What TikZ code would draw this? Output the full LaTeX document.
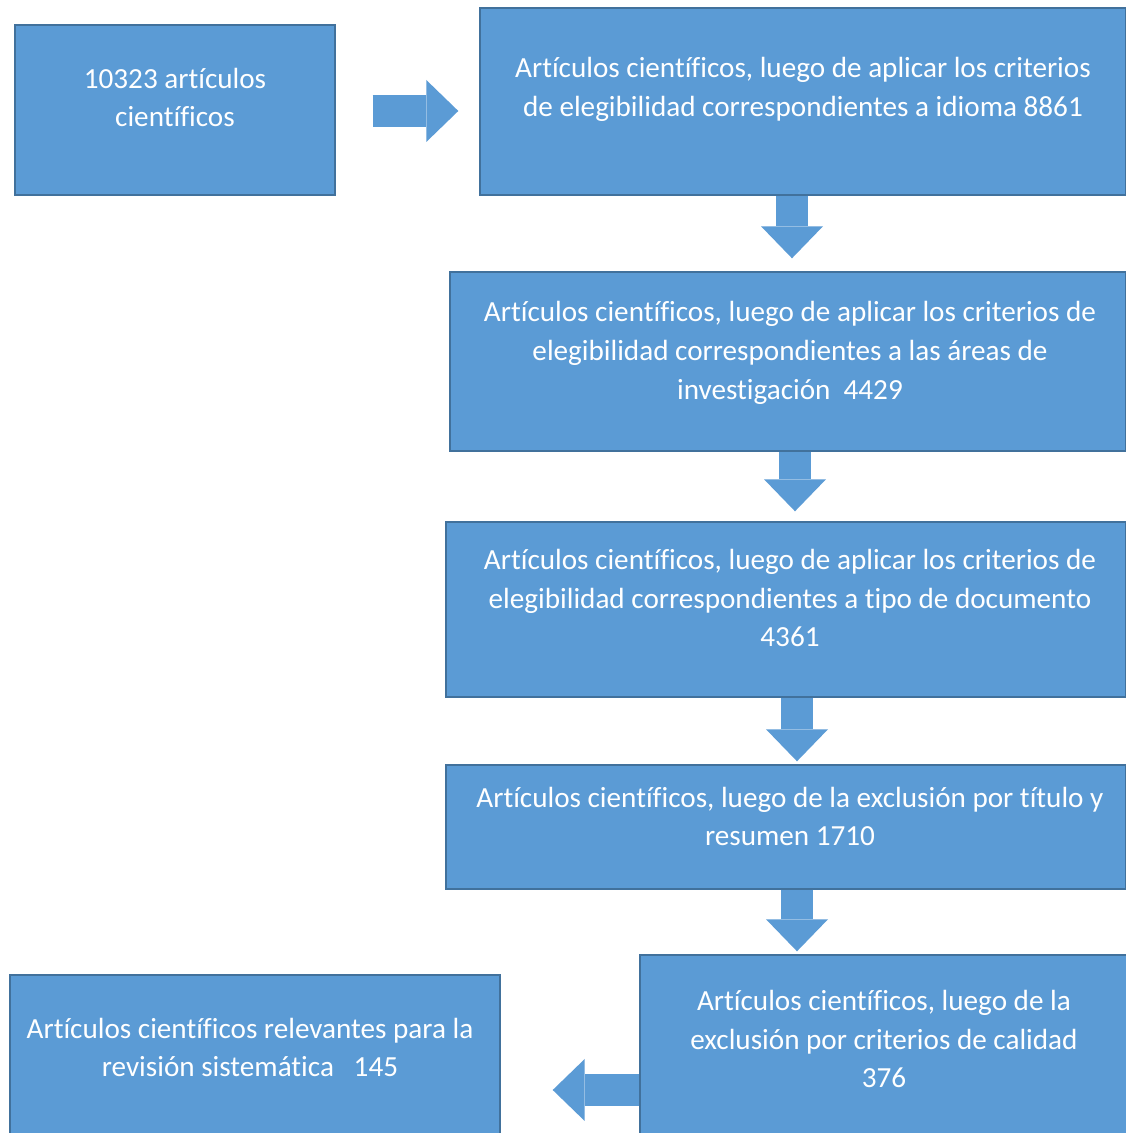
\documentclass[tikz,border=0pt]{standalone}
\usepackage{fontspec}
\setmainfont{Carlito}[Ligatures={NoCommon,NoContextual}]
\usepackage{xcolor}
\usetikzlibrary{arrows.meta}

\definecolor{boxblue}{HTML}{5B9BD5}
\definecolor{boxline}{HTML}{41719C}

\begin{document}
\begin{tikzpicture}[
		stepbox/.style = {draw = boxline, fill = boxblue, line width = 0.8pt, inner sep = 0pt},
		steptext/.style = {align = center, text = white, font = \fontsize{16.6}{22}\selectfont},
		fatarrow/.style = {draw = boxblue, line width = 0.64cm, -{Triangle[length=0.64cm, width=1.24cm, line width=0pt]}}
	]
		\clip (0,0) rectangle (22.52,22.66);
		\fill[white] (0,0) rectangle (22.52,22.66);

		% boxes
		\node[stepbox, minimum width=6.4cm, minimum height=3.4cm] (b0) at (3.5,20.46) {};
		\node[stepbox, minimum width=12.92cm, minimum height=3.74cm] (b1) at (16.06,20.63) {};
		\node[stepbox, minimum width=13.52cm, minimum height=3.58cm] (b2) at (15.76,15.43) {};
		\node[stepbox, minimum width=13.6cm, minimum height=3.5cm] (b3) at (15.72,10.47) {};
		\node[stepbox, minimum width=13.6cm, minimum height=2.48cm] (b4) at (15.72,6.12) {};
		\node[stepbox, minimum width=9.8cm, minimum height=3.9cm] (b5) at (17.7,1.61) {};
		\node[stepbox, minimum width=9.8cm, minimum height=3.5cm] (b6) at (5.1,1.41) {};

		% texts
		\node[steptext] (t0) at (3.5,20.71) {10323 artículos\\científicos};
		\node[steptext] (t1) at (16.06,20.87) {Artículos científicos, luego de aplicar los criterios\\de elegibilidad correspondientes a idioma 8861};
		\node[steptext] (t2) at (15.8,15.6) {Artículos científicos, luego de aplicar los criterios de\\elegibilidad correspondientes a las áreas de\\investigación~~4429};
		\node[steptext] (t3) at (15.8,10.7) {Artículos científicos, luego de aplicar los criterios de\\elegibilidad correspondientes a tipo de documento\\4361};
		\node[steptext] (t4) at (15.8,6.33) {Artículos científicos, luego de la exclusión por título y\\resumen 1710};
		\node[steptext] (t5) at (17.68,1.88) {Artículos científicos, luego de la\\exclusión por criterios de calidad\\376};
		\node[steptext] (t6) at (5.0,1.71) {Artículos científicos relevantes para la\\revisión sistemática~~~145};

		% block arrows
		\draw[fatarrow, shorten <=0.74cm, shorten >=0.42cm] ([yshift=-0.02cm]b0.east) -- ([yshift=-0.02cm]b0.east -| b1.west);
		\draw[fatarrow, shorten >=0.26cm] ([xshift=-0.22cm]b1.south) -- ([xshift=-0.22cm]b1.south |- b2.north);
		\draw[fatarrow, shorten >=0.2cm] ([xshift=0.14cm]b2.south) -- ([xshift=0.14cm]b2.south |- b3.north);
		\draw[fatarrow, shorten >=0.06cm] ([xshift=0.22cm]b3.south) -- ([xshift=0.22cm]b3.south |- b4.north);
		\draw[fatarrow, shorten >=0.06cm] ([xshift=0.22cm]b4.south) -- ([xshift=0.22cm]b4.south |- b5.north);
		\draw[fatarrow, shorten >=1.04cm] ([yshift=-0.75cm]b5.west) -- ([yshift=-0.75cm]b5.west -| b6.east);

	\end{tikzpicture}
\end{document}
